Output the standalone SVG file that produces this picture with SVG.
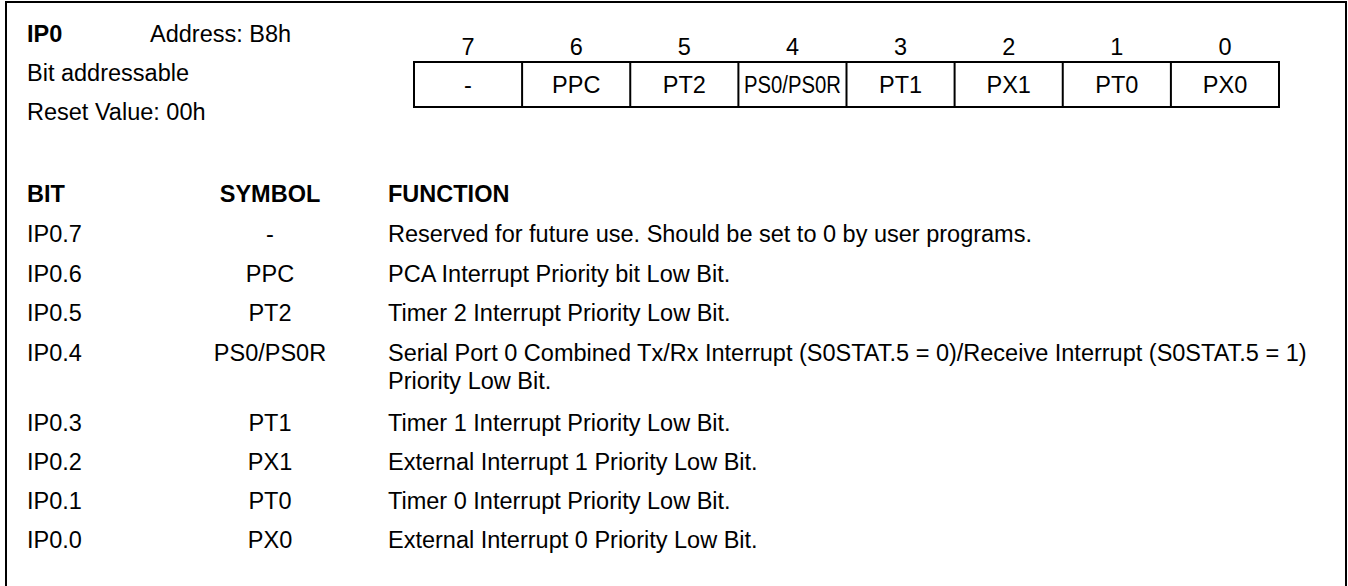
<svg xmlns="http://www.w3.org/2000/svg" width="1348" height="586" viewBox="0 0 1348 586">
<style>
text{font-family:"Liberation Sans",Arial,sans-serif;font-size:23.5px;fill:#000}
.b{font-weight:bold}
.c{text-anchor:middle}
.ln{fill:none;stroke:#000;stroke-width:2}
</style>
<rect x="0" y="0" width="1348" height="586" fill="#fff"/>
<path class="ln" d="M6,586 V2 H1346 V586"/>
<g id="header">
<text class="b" x="27" y="42">IP0</text>
<text x="150" y="42">Address: B8h</text>
<text x="27" y="81">Bit addressable</text>
<text x="27" y="120">Reset Value: 00h</text>
</g>
<g id="register">
<rect class="ln" x="414" y="62" width="865" height="45"/>
<path class="ln" d="M522.1,62V107M630.25,62V107M738.4,62V107M846.5,62V107M954.6,62V107M1062.75,62V107M1170.9,62V107"/>
<g>
<text class="c" x="468" y="55">7</text>
<text class="c" x="576.2" y="55">6</text>
<text class="c" x="684.3" y="55">5</text>
<text class="c" x="792.5" y="55">4</text>
<text class="c" x="900.6" y="55">3</text>
<text class="c" x="1008.7" y="55">2</text>
<text class="c" x="1116.8" y="55">1</text>
<text class="c" x="1225" y="55">0</text>
<text class="c" x="468" y="93">-</text>
<text class="c" x="576.2" y="93">PPC</text>
<text class="c" x="684.3" y="93">PT2</text>
<text class="c" x="792.5" y="93" textLength="97" lengthAdjust="spacingAndGlyphs">PS0/PS0R</text>
<text class="c" x="900.6" y="93">PT1</text>
<text class="c" x="1008.7" y="93">PX1</text>
<text class="c" x="1116.8" y="93">PT0</text>
<text class="c" x="1225" y="93">PX0</text>
</g>
</g>
<g id="table">
<text class="b" x="27" y="202">BIT</text>
<text class="b c" x="270" y="202">SYMBOL</text>
<text class="b" x="388" y="202">FUNCTION</text>
<text x="27" y="242">IP0.7</text>
<text class="c" x="270" y="242">-</text>
<text x="388" y="242">Reserved for future use. Should be set to 0 by user programs.</text>
<text x="27" y="282">IP0.6</text>
<text class="c" x="270" y="282">PPC</text>
<text x="388" y="282">PCA Interrupt Priority bit Low Bit.</text>
<text x="27" y="321">IP0.5</text>
<text class="c" x="270" y="321">PT2</text>
<text x="388" y="321">Timer 2 Interrupt Priority Low Bit.</text>
<text x="27" y="361">IP0.4</text>
<text class="c" x="270" y="361">PS0/PS0R</text>
<text x="388" y="361">Serial Port 0 Combined Tx/Rx Interrupt (S0STAT.5 = 0)/Receive Interrupt (S0STAT.5 = 1)</text>
<text x="388" y="389">Priority Low Bit.</text>
<text x="27" y="431">IP0.3</text>
<text class="c" x="270" y="431">PT1</text>
<text x="388" y="431">Timer 1 Interrupt Priority Low Bit.</text>
<text x="27" y="470">IP0.2</text>
<text class="c" x="270" y="470">PX1</text>
<text x="388" y="470">External Interrupt 1 Priority Low Bit.</text>
<text x="27" y="509">IP0.1</text>
<text class="c" x="270" y="509">PT0</text>
<text x="388" y="509">Timer 0 Interrupt Priority Low Bit.</text>
<text x="27" y="548">IP0.0</text>
<text class="c" x="270" y="548">PX0</text>
<text x="388" y="548">External Interrupt 0 Priority Low Bit.</text>
</g>
</svg>
